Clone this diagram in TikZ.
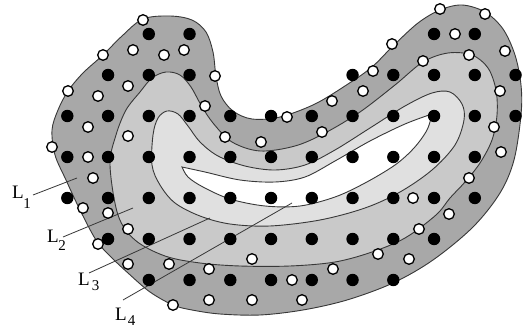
\documentclass[tikz,border=0pt]{standalone}
\usepackage{fontspec}
\setmainfont{Liberation Serif}
\begin{document}
\begin{tikzpicture}[x=1pt,y=-1pt,
  edgeline/.style={draw=edgec, line width=0.9pt},
  pointer/.style={draw=edgec, line width=0.8pt},
  lbl/.style={anchor=base west, inner sep=0pt, font=\fontsize{19}{19}\selectfont},
  bdot/.style={fill=black},
  wdot/.style={draw=black, fill=white, line width=1.3pt}]
\definecolor{bandA}{gray}{0.66}
\definecolor{bandB}{gray}{0.79}
\definecolor{bandC}{gray}{0.88}
\definecolor{edgec}{gray}{0.22}
\newcommand{\subnum}[2]{\raisebox{#1}{\fontsize{15}{15}\selectfont #2}}
\useasboundingbox (0,0) rectangle (523,329);
\fill[white] (0,0) rectangle (523,329);
% outer band L1
\filldraw[fill=bandA, edgeline] plot[smooth cycle, tension=0.55] coordinates {
 (143,19) (170,16) (192,20) (206,32) (213,52) (216,76) (221,96) (233,111) (252,119)
 (280,117) (315,104) (348,84) (372,67) (393,46) (418,23) (440,10) (462,5) (485,12)
 (503,29) (515,55) (521,85) (521,115) (514,160) (500,193) (473,227) (433,260)
 (393,283) (347,300) (303,310) (260,315) (220,314) (192,310) (173,305) (150,292)
 (128,273) (110,256) (96,240) (80,210) (66,180) (55,155) (52,130) (58,110) (68,91)
 (83,73) (103,55) (122,36)};
% band L2
\filldraw[fill=bandB, edgeline] plot[smooth cycle, tension=0.55] coordinates {
 (110,165) (116,135) (126,110) (140,92) (152,78) (166,72) (180,75) (191,87) (201,105)
 (213,123) (232,142) (260,151) (295,146) (325,133) (360,112) (395,85) (423,62)
 (448,53) (472,55) (488,68) (496,90) (497,115) (492,140) (480,163) (465,182)
 (450,198) (436,215) (405,238) (372,252) (335,262) (290,266) (240,266) (200,263)
 (165,256) (135,240) (118,215)};
% band L3
\filldraw[fill=bandC, edgeline] plot[smooth cycle, tension=0.55] coordinates {
 (152,165) (153,135) (158,118) (167,111) (178,114) (188,126) (200,142) (218,156)
 (245,166) (275,170) (305,165) (335,150) (370,128) (405,106) (432,93) (450,92)
 (462,104) (464,120) (455,145) (432,170) (400,192) (365,208) (320,220) (270,226)
 (230,224) (200,216) (175,203) (160,185)};
% crescent L4
\filldraw[fill=white, edgeline]
 plot[smooth, tension=0.55] coordinates {(182,167) (205,172) (240,180) (275,182)
   (305,177) (335,161) (370,141) (405,124) (432,114)}
 -- plot[smooth, tension=0.55] coordinates {(432,114) (427,130) (414,148) (395,165)
   (365,183) (335,197) (300,206) (265,206) (230,199) (203,187) (188,177) (182,167)}
 -- cycle;
% labels
\node[lbl] (l1) at (12,198) {L\kern-0.5pt\subnum{-10pt}{1}};
\node[lbl] (l2) at (47,242) {L\kern-0.5pt\subnum{-8pt}{2}};
\node[lbl] (l3) at (78,285) {L\kern2pt\subnum{-5pt}{3}};
\node[lbl] (l4) at (115,320) {L\kern1pt\subnum{-5pt}{4}};
% pointer lines
\coordinate (p1s) at (33,195); \coordinate (p1e) at (77,178);
\coordinate (p2s) at (63,237); \coordinate (p2e) at (133,208);
\coordinate (p3s) at (89,273); \coordinate (p3e) at (210,218);
\coordinate (p4s) at (123,300); \coordinate (p4e) at (292,203);
\draw[pointer] (p1s) -- (p1e);
\draw[pointer] (p2s) -- (p2e);
\draw[pointer] (p3s) -- (p3e);
\draw[pointer] (p4s) -- (p4e);
% black dots on grid
\foreach \yy/\cols in {34/{2,3,9,10}, 75/{1,2,3,7,8,9,10,11},
  116/{0,1,2,3,4,5,6,7,8,9,10,11}, 157/{0,1,2,3,4,5,6,7,8,9,10},
  198/{0,1,2,3,4,5,6,7,8,9,10}, 239/{1,2,3,4,5,6,7,8,9}, 280/{2,3,4,5,6,7,8}}{
  \foreach \c in \cols {
    \fill[bdot] ({67.3+40.75*\c},\yy) circle (6.2pt);
  }
}
% white dots
\foreach \p in {(143,20),(103,55),(133,50),(164,55),(184,50),(215,76),(128,86),
  (68,91),(98,96),(205,106),(88,127),(128,136),(225,137),(261,142),(52,147),(88,157),
  (440,9),(485,14),(455,34),(505,51),(392,44),(423,61),(469,55),(373,71),(363,91),
  (500,91),(332,101),(287,117),(322,132),(494,127),(501,152),
  (93,178),(83,208),(108,213),(128,229),(98,244),(128,264),(169,264),(209,269),
  (252,259),(209,300),(252,300),(173,305),
  (469,178),(413,198),(449,214),(419,229),(378,254),(409,259),(333,269),(292,280),(302,300)}{
  \filldraw[wdot] \p circle (5.3pt);
}
\end{tikzpicture}
\end{document}
